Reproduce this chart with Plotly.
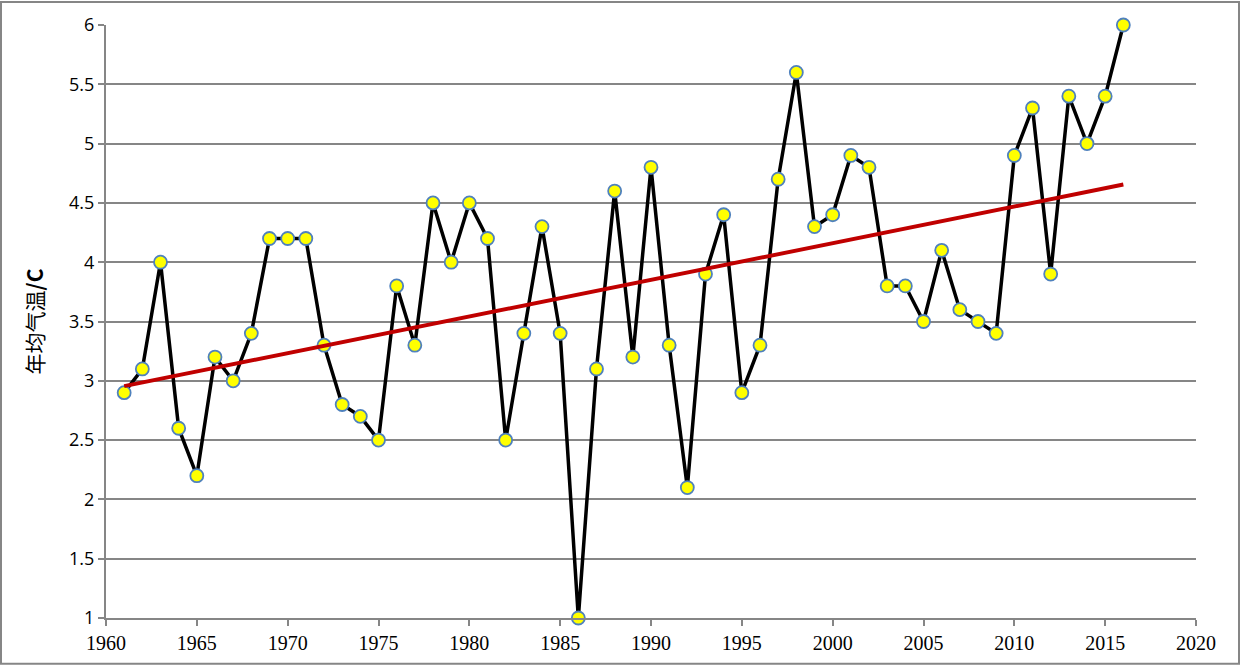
import plotly.graph_objects as go

# annual mean temperature
years = list(range(1961, 2017))
temps = [2.9, 3.1, 4.0, 2.6, 2.2, 3.2, 3.0, 3.4, 4.2, 4.2,
         4.2, 3.3, 2.8, 2.7, 2.5, 3.8, 3.3, 4.5, 4.0, 4.5,
         4.2, 2.5, 3.4, 4.3, 3.4, 1.0, 3.1, 4.6, 3.2, 4.8,
         3.3, 2.1, 3.9, 4.4, 2.9, 3.3, 4.7, 5.6, 4.3, 4.4,
         4.9, 4.8, 3.8, 3.8, 3.5, 4.1, 3.6, 3.5, 3.4, 4.9,
         5.3, 3.9, 5.4, 5.0, 5.4, 6.0]

# linear trend line endpoints
trend_x = [1961, 2016]
trend_y = [2.955, 4.655]

x_ticks = [1960, 1965, 1970, 1975, 1980, 1985, 1990, 1995, 2000, 2005, 2010, 2015, 2020]
y_ticks = [1, 1.5, 2, 2.5, 3, 3.5, 4, 4.5, 5, 5.5, 6]

fig = go.Figure()

fig.add_trace(go.Scatter(
    x=years, y=temps,
    mode='lines+markers',
    line=dict(color='black', width=3.5),
    marker=dict(size=13, color='#FFFF00', line=dict(color='#4F81BD', width=1.8)),
    cliponaxis=False,
    showlegend=False
))

fig.add_trace(go.Scatter(
    x=trend_x, y=trend_y,
    mode='lines',
    line=dict(color='#C00000', width=4),
    showlegend=False
))

fig.update_layout(
    width=1240, height=666,
    margin=dict(l=106, r=44, t=24, b=47),
    plot_bgcolor='white',
    paper_bgcolor='white',
)

fig.update_xaxes(
    range=[1960, 2020],
    tickvals=x_ticks,
    showgrid=False,
    zeroline=False,
    showline=True, linecolor='#868686', linewidth=2,
    ticks='outside', ticklen=6, tickcolor='#868686', tickwidth=2,
    tickfont=dict(family='Liberation Serif, DejaVu Serif, serif', size=20, color='black'),
)

fig.update_yaxes(
    range=[1, 6],
    tickvals=y_ticks,
    ticktext=[f'{v:g}' for v in y_ticks],
    showgrid=True, gridcolor='#868686', gridwidth=2,
    zeroline=False,
    showline=True, linecolor='#868686', linewidth=2,
    ticks='outside', ticklen=6, tickcolor='#868686', tickwidth=2,
    tickfont=dict(family='Open Sans', size=18, color='black'),
    title=dict(text='年均气温<b>/C</b>', standoff=20,
               font=dict(family='Noto Sans CJK SC', size=21, color='black')),
)

# outer frame around the whole chart
fig.add_shape(type='rect', xref='paper', yref='paper',
              x0=-105 / 1090, x1=1 + 43 / 1090, y0=-46 / 595, y1=1 + 23 / 595,
              line=dict(color='#868686', width=2))

# drop the page margin so the chart sits at the window's corner
fig.write_html("out.html", config={'displayModeBar': False},
               post_script="document.body.style.margin='0';")
